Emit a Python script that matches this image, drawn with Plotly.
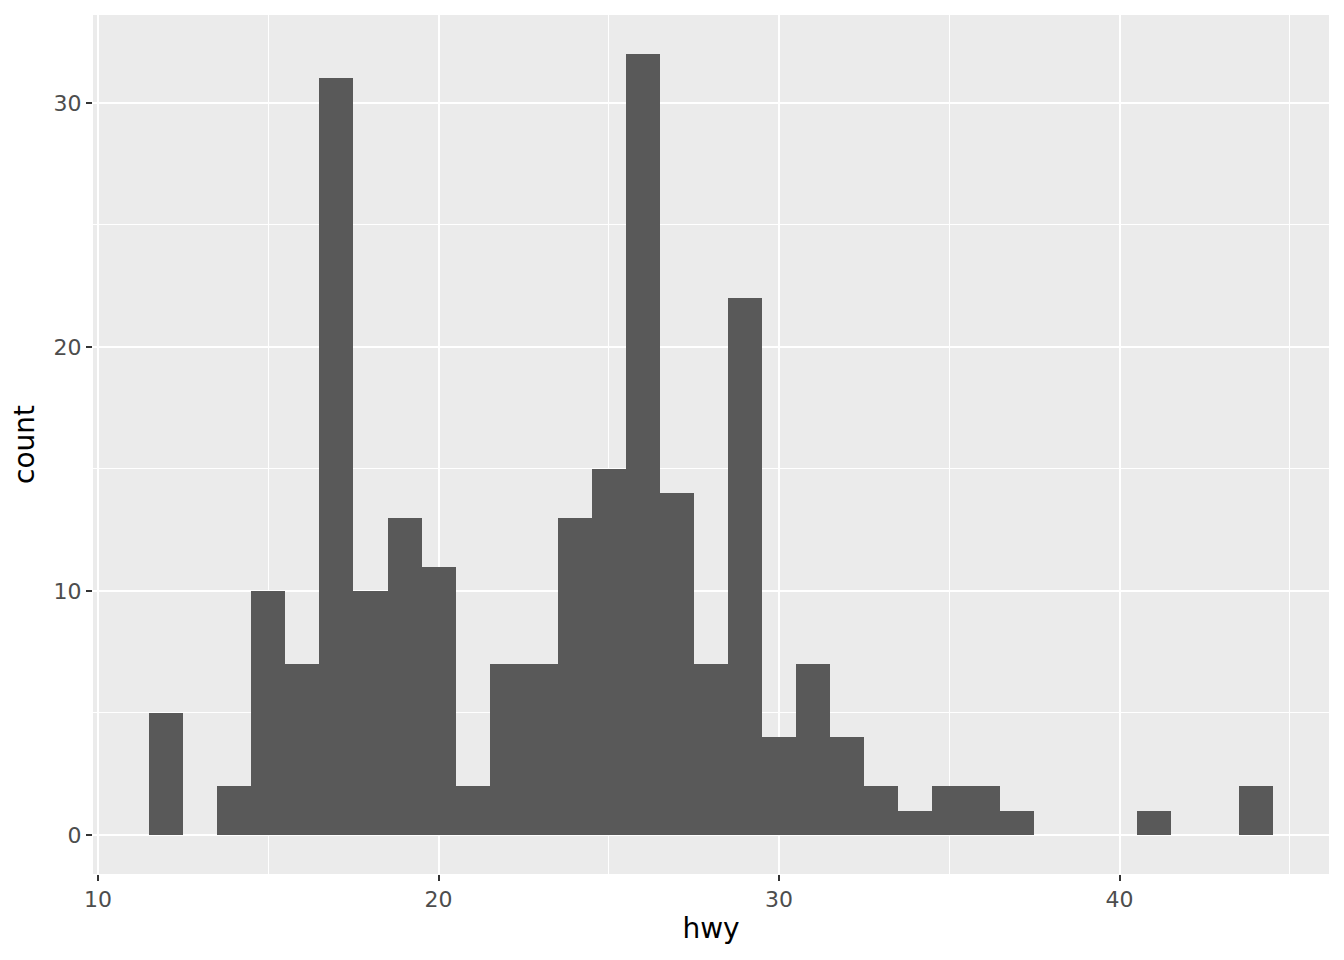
import plotly.graph_objects as go

hwy_values = [12, 14, 15, 16, 17, 18, 19, 20, 21, 22, 23, 24, 25, 26, 27, 28, 29, 30, 31, 32, 33, 34, 35, 36, 37, 41, 44]
counts = [5, 2, 10, 7, 31, 10, 13, 11, 2, 7, 7, 13, 15, 32, 14, 7, 22, 4, 7, 4, 2, 1, 2, 2, 1, 1, 2]
x_ticks = [10, 20, 30, 40]
y_ticks = [0, 10, 20, 30]

fig = go.Figure(go.Bar(
    x=hwy_values, y=counts, width=1.0,
    marker=dict(color="#595959", line=dict(width=0)),
    hoverinfo="x+y",
))

axis_common = dict(
    showgrid=True, gridcolor="white", gridwidth=2,
    zeroline=False, showline=False,
    ticks="outside", ticklen=6, tickwidth=2, tickcolor="#333333",
    tickfont=dict(family="DejaVu Sans", size=22, color="#4D4D4D"),
    title_font=dict(family="DejaVu Sans", size=28, color="black"),
    minor=dict(showgrid=True, gridcolor="white", gridwidth=1, dtick=5, tick0=0, ticks=""),
)

fig.update_layout(
    width=1344, height=960,
    margin=dict(l=85, r=23, t=7, b=94),
    paper_bgcolor="white", plot_bgcolor="#EBEBEB",
    bargap=0, showlegend=False,
    xaxis=dict(range=[9.85, 46.15], tickmode="array", tickvals=x_ticks,
               title=dict(text="hwy", standoff=6), **axis_common),
    yaxis=dict(range=[-1.6, 33.6], tickmode="array", tickvals=y_ticks,
               title=dict(text="count", standoff=10), **axis_common),
)

fig.write_html("out.html")
